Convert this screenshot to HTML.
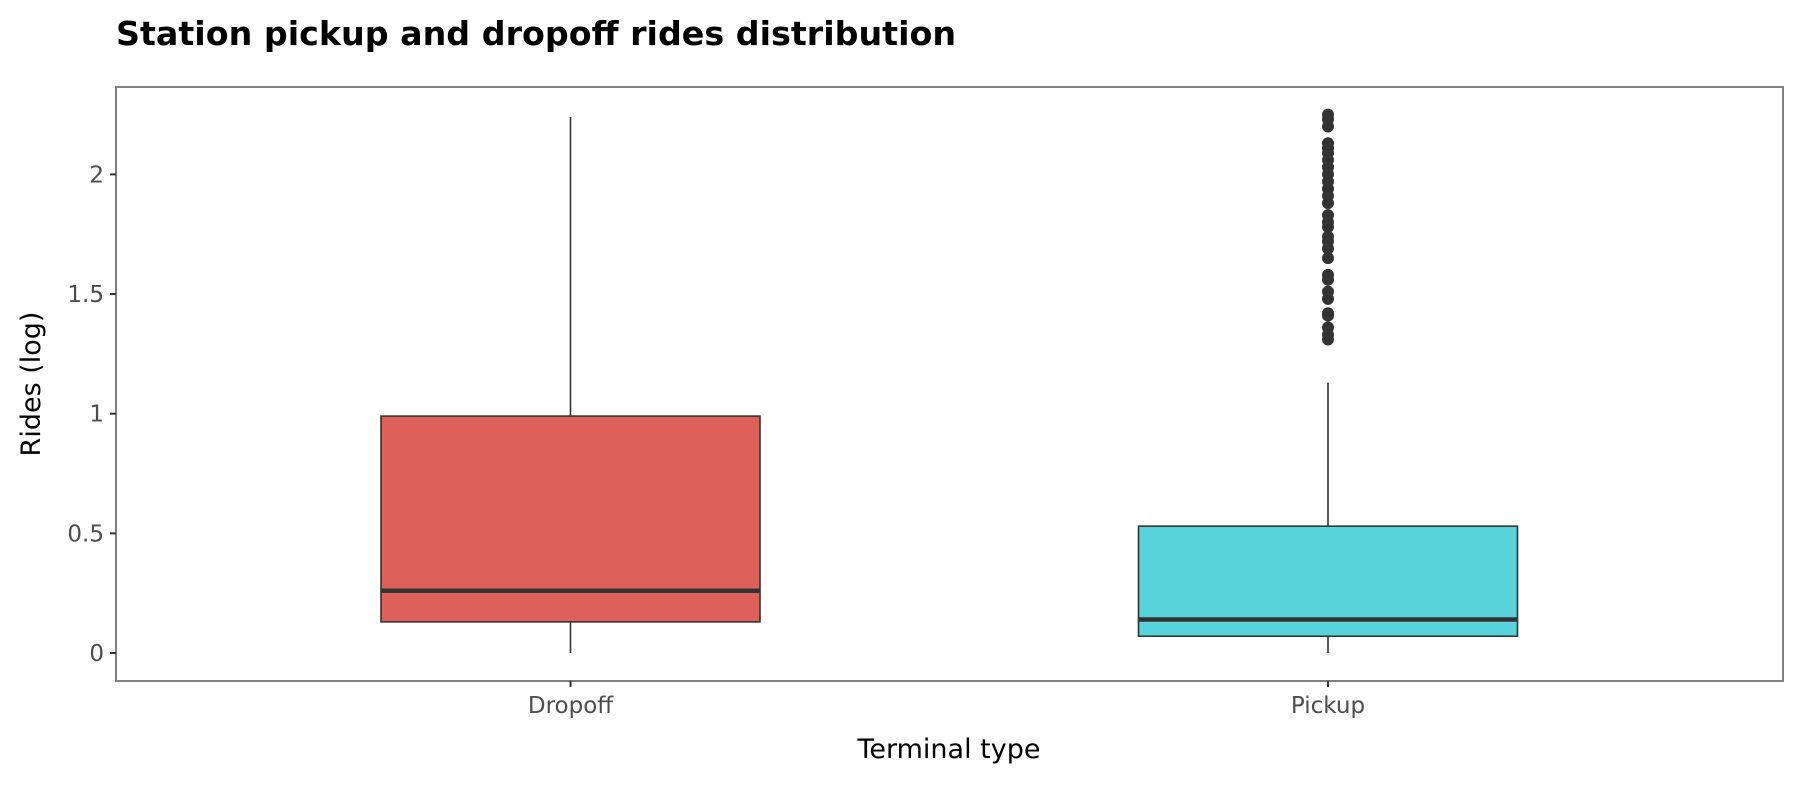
<!DOCTYPE html>
<html><head><meta charset="utf-8"><style>
body{margin:0;background:#fff;font-family:"DejaVu Sans","Liberation Sans",sans-serif;}
svg text{font-family:"DejaVu Sans","Liberation Sans",sans-serif;}
</style></head><body>
<svg id="c" width="1800" height="800" xmlns="http://www.w3.org/2000/svg">
<text x="116" y="45" font-size="33.3" font-weight="bold" fill="#000">Station pickup and dropoff rides distribution</text>
<rect x="116" y="87" width="1667" height="594" fill="#fff" stroke="#7f7f7f" stroke-width="2"/>
<g id="g"></g>
<text x="949" y="758" font-size="27" text-anchor="middle" fill="#000">Terminal type</text>
<text transform="translate(40,384) rotate(-90)" font-size="27" text-anchor="middle" fill="#000">Rides (log)</text>
</svg>
<script>
const categories=["Dropoff","Pickup"];
const mins=[0,0];
const q1s=[0.13,0.07];
const medians=[0.26,0.14];
const q3s=[0.99,0.53];
const maxs=[2.24,1.13];
const colors=["#dd605a","#58d2db"];
const pickupOutliers=[1.31,1.33,1.36,1.41,1.42,1.48,1.51,1.56,1.58,1.65,1.69,1.72,1.74,1.78,1.80,1.83,1.88,1.91,1.94,1.97,2.00,2.03,2.06,2.09,2.11,2.13,2.20,2.23,2.25];
const outliers=[[],pickupOutliers];
const yTicks=[0,0.5,1,1.5,2];
const yTickLabels=["0","0.5","1","1.5","2"];

const NS="http://www.w3.org/2000/svg";
const g=document.getElementById('g');
function y(v){return 653-v*239.3;}
function x(i){return 570.5+i*757.5;}
const halfW=189.5;
function mk(t,a,p){const e=document.createElementNS(NS,t);for(const k in a)e.setAttribute(k,a[k]);(p||g).appendChild(e);return e;}
yTicks.forEach((v,i)=>{
  const l=mk('line',{x1:110,x2:116,y1:y(v),y2:y(v),stroke:'#333','stroke-width':2});
  
  
  const t=mk('text',{x:104,y:y(v)+8,'font-size':23,'text-anchor':'end',fill:'#4d4d4d'});
  t.textContent=yTickLabels[i];
  
  
});
categories.forEach((c,i)=>{
  const cx=x(i);
  const tk=mk('line',{x1:cx,x2:cx,y1:681,y2:687,stroke:'#333','stroke-width':2});
  
  
  const t=mk('text',{x:cx,y:713,'font-size':23,'text-anchor':'middle',fill:'#4d4d4d'});
  t.textContent=c;
  
  
  const w=mk('line',{x1:cx,x2:cx,y1:y(maxs[i]),y2:y(mins[i]),stroke:'#333','stroke-width':1.6});
  
  
  const b=mk('rect',{x:cx-halfW,y:y(q3s[i]),width:2*halfW,height:y(q1s[i])-y(q3s[i]),fill:colors[i],stroke:'#333','stroke-width':1.6});
  
  
  const m=mk('line',{x1:cx-halfW,x2:cx+halfW,y1:y(medians[i]),y2:y(medians[i]),stroke:'#333','stroke-width':4.5});
  
  
  outliers[i].forEach(v=>{
    const o=mk('circle',{cx:cx,cy:y(v),r:6,fill:'#333'});
    
    
  });
});
</script>
</body></html>
